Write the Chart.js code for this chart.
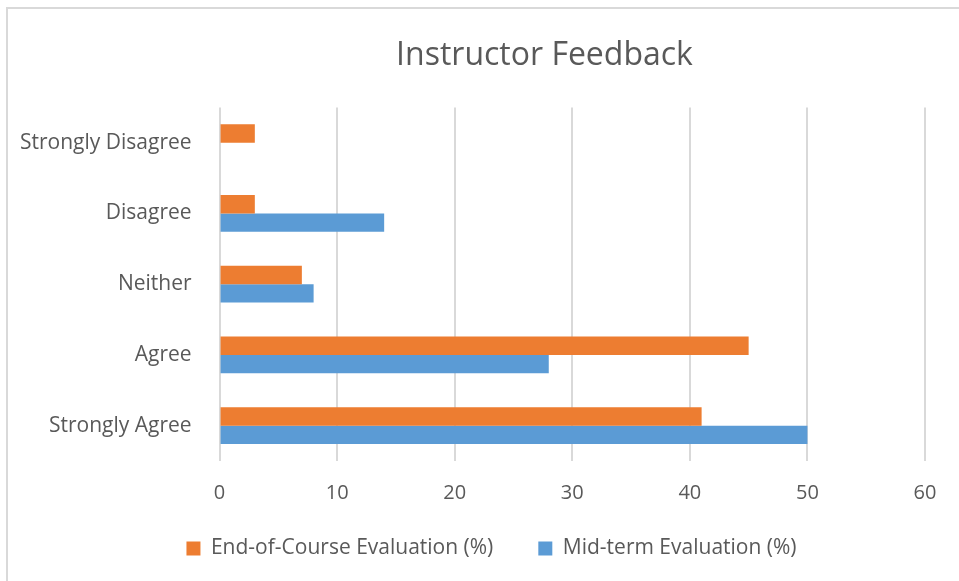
<!DOCTYPE html>
<html>
<head>
<meta charset="utf-8">
<script src="https://cdn.jsdelivr.net/npm/chart.js@4.4.1/dist/chart.umd.min.js"></script>
<style>
  html, body { margin: 0; padding: 0; background: #fff; }
  #wrap { position: relative; width: 959px; height: 581px; overflow: hidden; }
  #frame { position: absolute; left: 6px; top: 7px; width: 1200px; height: 800px;
           border-left: 2px solid #d9d9d9; border-top: 2px solid #d9d9d9; }
  #c { position: absolute; left: 0; top: 0; }
</style>
</head>
<body>
<div id="wrap">
  <div id="frame"></div>
  <canvas id="c" width="959" height="581"></canvas>
</div>
<script>
  // valores (porcentajes)
  var categories = ['Strongly Disagree', 'Disagree', 'Neither', 'Agree', 'Strongly Agree'];
  var endOfCourse = [3, 3, 7, 45, 41];
  var midTerm = [0, 14, 8, 28, 50];
  var seriesNames = ['End-of-Course Evaluation (%)', 'Mid-term Evaluation (%)'];

  var textColor = '#595959';
  var fontFamily = '"Open Sans", "Liberation Sans", sans-serif';
  var legendLift = 32;

  // leyenda mas baja de alto, y titulo/leyenda desplazados como en el original
  var shiftBlocks = {
    id: 'shiftBlocks',
    beforeInit: function(chart) {
      var lg = chart.legend;
      var origFit = lg.fit;
      lg.fit = function() {
        origFit.call(this);
        this.height -= legendLift;
      };
    },
    afterLayout: function(chart) {
      if (chart.titleBlock) { chart.titleBlock.left += 82; chart.titleBlock.right += 82; }
      if (chart.legend) {
        chart.legend.left += 29; chart.legend.right += 29;
        chart.legend.top -= legendLift; chart.legend.height += legendLift;
      }
    }
  };

  new Chart(document.getElementById('c'), {
    type: 'bar',
    data: {
      labels: categories,
      datasets: [
        { label: seriesNames[0], data: endOfCourse, backgroundColor: '#ED7D31', categoryPercentage: 0.52, barPercentage: 1 },
        { label: seriesNames[1], data: midTerm, backgroundColor: '#5B9BD5', categoryPercentage: 0.52, barPercentage: 1 }
      ]
    },
    options: {
      indexAxis: 'y',
      responsive: false,
      animation: false,
      layout: { padding: { left: 0, right: 34, top: 10, bottom: 12 } },
      scales: {
        x: {
          min: 0, max: 60,
          ticks: { stepSize: 10, color: textColor, padding: 20, font: { family: fontFamily, size: 20 } },
          grid: { color: '#d9d9d9', lineWidth: 2, drawTicks: false },
          border: { display: false }
        },
        y: {
          ticks: { color: textColor, padding: 20, font: { family: fontFamily, size: 21 } },
          grid: { display: false },
          border: { display: false }
        }
      },
      plugins: {
        title: {
          display: true,
          text: 'Instructor Feedback',
          color: textColor,
          font: { family: fontFamily, size: 32, weight: 'normal' },
          padding: { top: 27, bottom: 32 }
        },
        legend: {
          position: 'bottom',
          labels: { color: textColor, boxWidth: 14, boxHeight: 14, padding: 45, font: { family: fontFamily, size: 21 } }
        },
        tooltip: { enabled: false }
      }
    },
    plugins: [shiftBlocks]
  });
</script>
</body>
</html>
